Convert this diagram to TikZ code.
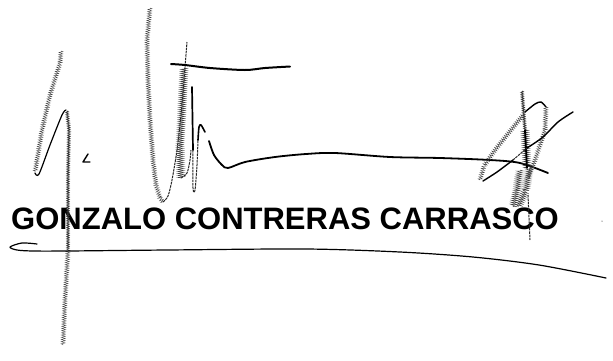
\documentclass[tikz,border=0pt]{standalone}
\usepackage{fontspec}
\setmainfont{Liberation Sans}
\usetikzlibrary{decorations.pathmorphing}
\tikzset{
  inkline/.style={black,line width=1.4pt,line cap=round,line join=round},
  thinink/.style={black!85,line width=1pt,dash pattern=on 2.5pt off .8pt,line cap=butt},
  hatchink/.style={black!75,line width=.4pt,decorate,decoration={zigzag,segment length=2.2pt,amplitude=2pt}},
  denseink/.style={black!75,line width=.45pt,decorate,decoration={zigzag,segment length=2pt,amplitude=3.2pt}},
  dotink/.style={black!80,line width=.6pt,decorate,decoration={zigzag,segment length=1.8pt,amplitude=1.3pt}},
  nametext/.style={font=\bfseries\fontsize{31}{34}\selectfont,text=black,inner sep=0pt,anchor=base west}
}
\begin{document}
\begin{tikzpicture}[x=1pt,y=-1pt]
\useasboundingbox (0,0) rectangle (613,360);
\node[nametext] (name) at (11,229.5) {GONZALO CONTRERAS CARRASCO};
% left stroke
\draw[hatchink] (61,51) -- (60,63) -- (50,95) -- (42,130) -- (35,172);
\draw[inkline,line width=1.2pt] plot[smooth] coordinates {(35,173) (39,174) (50,145) (62,115) (66,110)};
\draw[dotink] (67,111) -- (69,130) -- (68,175) -- (68,250);
\draw[hatchink] (68,250) -- (65,300) -- (63,345);
% tall loop
\draw[hatchink] (150,8) -- (147,40) -- (148,80) -- (150,120) -- (153,160) -- (156,185) -- (160,198) -- (163,202);
\draw[thinink] plot[smooth] coordinates {(163,202) (168,196) (172,180) (177,150) (181,115) (184,80) (187,42)};
\draw[denseink] (184,68) -- (182,110) -- (180,145) -- (181,178);
\draw[thinink] plot[smooth] coordinates {(181,178) (187,173) (190,160) (191,150)};
\draw[inkline,line width=1.7pt] (192,87) -- (193,150);
\draw[thinink] plot[smooth] coordinates {(193,150) (193,188) (195,190) (197,165) (198,140)};
\draw[inkline,line width=1.6pt] plot[smooth] coordinates {(198,140) (199,127) (201,125) (205,132)};
\draw[inkline,line width=1.8pt] plot[smooth] coordinates {(209,141) (214,155) (222,165) (228,168) (245,162) (275,157) (306,154) (335,153) (390,157) (440,158) (490,160) (520,163) (548,173)};
% top bar
\draw[inkline,line width=2pt] plot[smooth] coordinates {(171,64) (185,65) (210,68) (245,70) (265,68) (290,66.5)};
% right flourish
\draw[dotink] (522,91) -- (525,130);
\draw[denseink] (525,130) -- (527,168);
\draw[inkline,line width=1.8pt] (525,130) -- (527,168);
\draw[denseink] (520,170) -- (517,190) -- (513,207);
\draw[denseink] (529,168) -- (526,190) -- (518,207);
\draw[thinink] (528,195) -- (530,240);
\draw[hatchink] (480,180) -- (484,166) -- (495,150) -- (515,125) -- (524,114);
\draw[inkline] plot[smooth] coordinates {(525,112) (535,104) (541,102) (546,107)};
\draw[hatchink] (546,107) -- (545,130) -- (535,160) -- (528,178);
\draw[inkline] plot[smooth] coordinates {(483,181) (497,172) (513,160)};
\draw[inkline] plot[smooth] coordinates {(527,148) (543,137) (558,122) (573,112)};
\draw[thinink] (513,160) -- (527,148);
% underline
\draw[inkline,line width=1.2pt] plot[smooth] coordinates {(37,244) (22,243) (10,247) (17,250) (33,251) (67,251) (167,250) (306,249) (400,252) (473,257) (539,265) (606,278)};
% small marks
\draw[inkline] plot coordinates {(88,154) (83,162) (90,162)};
\fill (602,221) circle (.5pt);
\end{tikzpicture}
\end{document}
